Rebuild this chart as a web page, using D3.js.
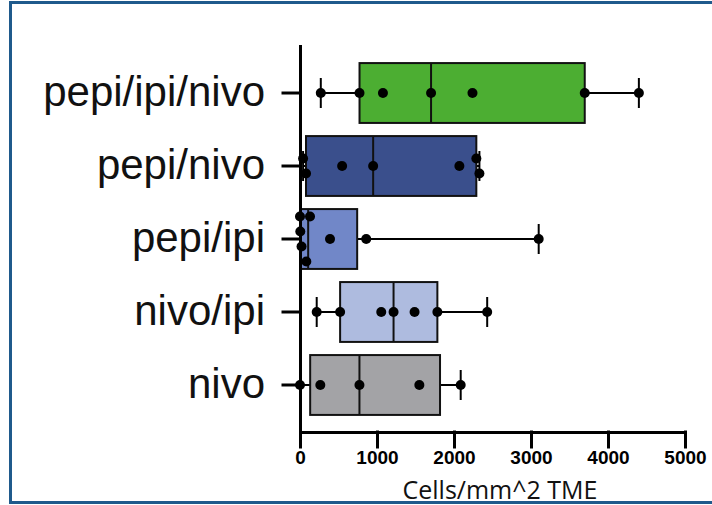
<!DOCTYPE html>
<html>
<head>
<meta charset="utf-8">
<script src="https://cdn.jsdelivr.net/npm/d3@7"></script>
<style>
  body { margin: 0; background: #fff; }
  svg { display: block; }
</style>
</head>
<body>
<svg id="boxchart"></svg>
<script>
// Data (Cells/mm^2 TME per sample)
const categories = ["pepi/ipi/nivo", "pepi/nivo", "pepi/ipi", "nivo/ipi", "nivo"];
const pepiIpiNivo = [270, 773, 1077, 1702, 2240, 3698, 4401];
const pepiNivo = [40, 78, 547, 950, 2070, 2290, 2330];
const pepiIpi = [0, 4, 20, 82, 130, 390, 860, 3100];
const nivoIpi = [217, 521, 1055, 1215, 1488, 1784, 2431];
const nivo = [0, 264, 772, 1550, 2087];
const groupValues = [pepiIpiNivo, pepiNivo, pepiIpi, nivoIpi, nivo];
const boxColors = ["#4cae32", "#3a4f8c", "#7187c8", "#aebbdf", "#a3a3a6"];
const xTicks = [0, 1000, 2000, 3000, 4000, 5000];
const xTitle = "Cells/mm^2 TME";

// Chart config
const W = 712, H = 505;
const plotLeft = 300, plotRight = 685, plotTop = 46, plotBottom = 432;
const dotR = 5, rowGap = 15, capHalf = 15;

const svg = d3.select("#boxchart").attr("width", W).attr("height", H);

// frame around the figure
svg.append("rect")
  .attr("x", 10.5).attr("y", 2.5)
  .attr("width", 800).attr("height", 500)
  .attr("fill", "none")
  .attr("stroke", "#1f5a8c")
  .attr("stroke-width", 3);

const xScale = d3.scaleLinear().domain([0, 5000]).range([plotLeft, plotRight]);
const yScale = d3.scaleBand()
  .domain(categories)
  .range([plotTop, plotBottom])
  .paddingInner(0.18)
  .paddingOuter(0.234);

// quartiles the way Prism does them: position (n+1)p, 1-based
function quart(sorted, p) {
  const n = sorted.length;
  let pos = (n + 1) * p;
  if (pos <= 1) return sorted[0];
  if (pos >= n) return sorted[n - 1];
  const lo = Math.floor(pos), f = pos - lo;
  return sorted[lo - 1] + f * (sorted[lo] - sorted[lo - 1]);
}

// stack overlapping dots in rows, centred per cluster
function placeDots(vals) {
  const pts = vals.map(v => ({ v, px: xScale(v) })).sort((a, b) => a.px - b.px);
  const clusters = [];
  pts.forEach((p, i) => {
    if (i > 0 && p.px - pts[i - 1].px < 2 * dotR) clusters[clusters.length - 1].push(p);
    else clusters.push([p]);
  });
  clusters.forEach(cl => {
    const rows = [];
    cl.forEach(p => {
      let r = 0;
      while (rows[r] && rows[r].some(q => Math.abs(q - p.px) < 2 * dotR)) r++;
      (rows[r] = rows[r] || []).push(p.px);
      p.row = r;
    });
    const maxRow = rows.length - 1;
    cl.forEach(p => p.dy = (p.row - maxRow / 2) * rowGap);
  });
  return pts;
}

const stats = categories.map((c, i) => {
  const s = groupValues[i].slice().sort((a, b) => a - b);
  return {
    name: c, color: boxColors[i], values: s,
    min: s[0], max: s[s.length - 1],
    q1: quart(s, 0.25), med: quart(s, 0.5), q3: quart(s, 0.75)
  };
});

const bw = yScale.bandwidth();
const groups = svg.append("g").attr("class", "boxes")
  .selectAll("g")
  .data(stats)
  .join("g")
  .attr("transform", d => "translate(0," + (yScale(d.name) + bw / 2) + ")");

// whiskers + caps
groups.append("line")
  .attr("x1", d => xScale(d.min)).attr("x2", d => xScale(d.q1))
  .attr("stroke", "#000").attr("stroke-width", 2);
groups.append("line")
  .attr("x1", d => xScale(d.q3)).attr("x2", d => xScale(d.max))
  .attr("stroke", "#000").attr("stroke-width", 2);
groups.selectAll("line.cap")
  .data(d => [d.min, d.max])
  .join("line")
  .attr("class", "cap")
  .attr("x1", v => xScale(v)).attr("x2", v => xScale(v))
  .attr("y1", -capHalf).attr("y2", capHalf)
  .attr("stroke", "#000").attr("stroke-width", 2);

// boxes
groups.append("rect")
  .attr("x", d => xScale(d.q1))
  .attr("y", -bw / 2)
  .attr("width", d => xScale(d.q3) - xScale(d.q1))
  .attr("height", bw)
  .attr("fill", d => d.color)
  .attr("stroke", "#111")
  .attr("stroke-width", 2);
groups.append("line")
  .attr("x1", d => xScale(d.med)).attr("x2", d => xScale(d.med))
  .attr("y1", -bw / 2).attr("y2", bw / 2)
  .attr("stroke", "#111").attr("stroke-width", 2);

// axes
const xAxis = svg.append("g").attr("class", "xaxis")
  .attr("transform", "translate(0," + plotBottom + ")")
  .call(d3.axisBottom(xScale).tickValues(xTicks).tickFormat(d3.format("d"))
    .tickSize(15).tickSizeOuter(0).tickPadding(4));
const yAxis = svg.append("g").attr("class", "yaxis")
  .attr("transform", "translate(" + plotLeft + ",0)")
  .call(d3.axisLeft(yScale).tickSize(17).tickSizeOuter(0).tickPadding(18));

svg.selectAll(".xaxis path, .yaxis path, .xaxis line, .yaxis line")
  .attr("stroke", "#000").attr("stroke-width", 3).attr("stroke-linecap", "square");
xAxis.selectAll("text")
  .attr("font-family", "Liberation Sans, Arial, sans-serif")
  .attr("font-weight", "bold")
  .attr("font-size", 19)
  .attr("fill", "#000");
yAxis.selectAll("text")
  .attr("font-family", "Liberation Sans, Arial, sans-serif")
  .attr("font-size", 42)
  .attr("fill", "#111");

// dots on top
groups.selectAll("circle")
  .data(d => placeDots(d.values))
  .join("circle")
  .attr("cx", p => p.px)
  .attr("cy", p => p.dy)
  .attr("r", dotR)
  .attr("fill", "#000");

svg.append("text")
  .attr("x", 500).attr("y", 499)
  .attr("text-anchor", "middle")
  .attr("font-family", "Open Sans, sans-serif")
  .attr("font-size", 25)
  .attr("fill", "#111")
  .text(xTitle);
</script>
</body>
</html>
